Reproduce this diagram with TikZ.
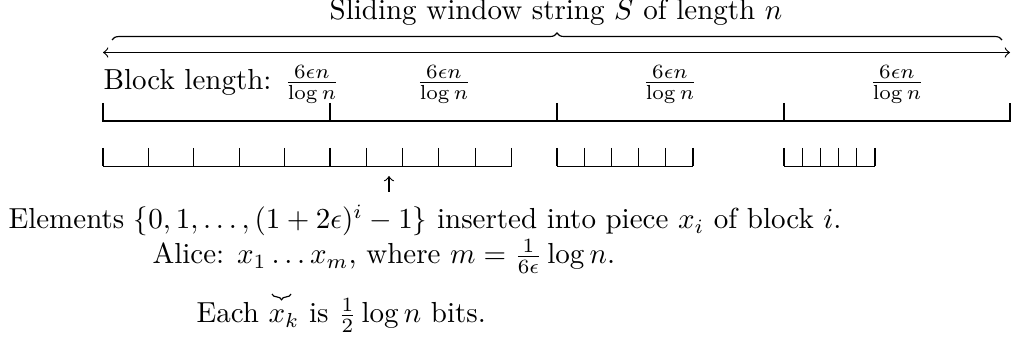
\documentclass[tikz,border=0pt]{standalone}
\usetikzlibrary{decorations.pathreplacing}
\begin{document}
\begin{tikzpicture}[x=0.345pt,y=-0.345pt,
  txt/.style={inner sep=0pt},
  rule/.style={line width=0.4pt},
  bracedeco/.style={decorate,decoration={brace,amplitude=#1}}]
\useasboundingbox (0,0) rectangle (1011,348);
% title and brace
\node[txt,anchor=base] (title) at (556,20) {Sliding window string $S$ of length $n$};
\coordinate (bl) at (112,40);
\coordinate (br) at (1002,40);
\draw[rule,bracedeco=2.4pt] (bl) -- (br);
\coordinate (al) at (103,52.5);
\coordinate (ar) at (1010,52.5);
\draw[rule,<->] (al) -- (ar);
% block lengths
\node[txt,anchor=base west] (blk) at (103,90) {Block length: $\frac{6\epsilon n}{\log n}$};
\node[txt,anchor=base] (f2) at (444,90) {$\frac{6\epsilon n}{\log n}$};
\node[txt,anchor=base] (f3) at (670,90) {$\frac{6\epsilon n}{\log n}$};
\node[txt,anchor=base] (f4) at (897,90) {$\frac{6\epsilon n}{\log n}$};
% main blocks
\draw[rule] (103,103) -- (103,121) -- (1010,121) -- (1010,103);
\foreach \x in {330,557,784} \draw[rule] (\x,103) -- (\x,121);
% pieces
\draw[rule] (103,166.5) -- (511.5,166.5);
\foreach \x in {103,148.4,193.8,239.2,284.6,330,366.3,402.6,438.9,475.2,511.5}
  \draw[rule] (\x,148) -- (\x,166.5);
\draw[rule] (557,166.5) -- (693,166.5);
\foreach \x in {557,584.2,611.4,638.6,665.8,693}
  \draw[rule] (\x,148) -- (\x,166.5);
\draw[rule] (784,166.5) -- (875,166.5);
\foreach \x in {784,802.2,820.4,838.6,856.8,875}
  \draw[rule] (\x,148) -- (\x,166.5);
% up arrow
\coordinate (ub) at (389,192);
\coordinate (ut) at (389,176);
\draw[rule,->] (ub) -- (ut);
% texts
\node[txt,anchor=base west] (elem) at (8,229) {Elements $\{0,1,\ldots,(1+2\epsilon)^i-1\}$ inserted into piece $x_i$ of block $i$.};
\node[txt,anchor=base west] (alice) at (152,264) {Alice: $x_1\ldots x_m$, where $m=\frac{1}{6\epsilon}\log n$.};
\coordinate (sl) at (272,294);
\coordinate (sr) at (291,294);
\draw[rule,bracedeco=2pt] (sr) -- (sl);
\node[txt,anchor=base west] (each) at (196,323) {Each $x_k$ is $\frac{1}{2}\log n$ bits.};
\end{tikzpicture}
\end{document}
